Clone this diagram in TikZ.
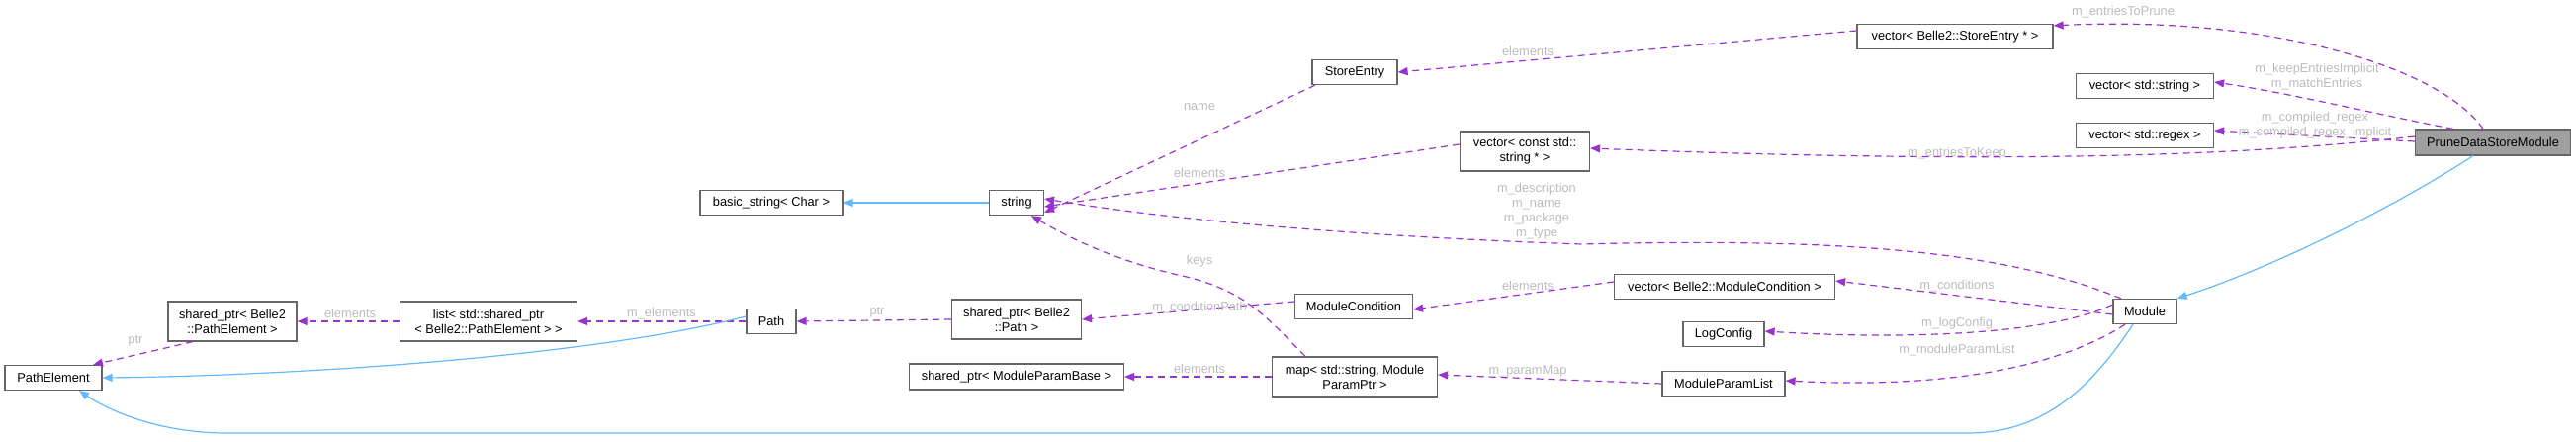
\documentclass[tikz,border=0pt]{standalone}
\usepackage{fontspec}
\setmainfont{Liberation Sans}
\usetikzlibrary{arrows.meta}
\definecolor{edgePurple}{HTML}{9A32CD}
\definecolor{edgeBlue}{HTML}{63B8FF}
\definecolor{boxGray}{HTML}{666666}
\definecolor{lblGray}{HTML}{BBBBBB}

\begin{document}
\begin{tikzpicture}[x=1pt, y=-1pt, >={Triangle[length=10pt,width=8pt]},
    cls/.style={draw=boxGray, line width=1.2pt, fill=white, inner sep=0pt, align=center,
      font=\fontsize{12.8}{15}\selectfont},
    usage/.style={draw=edgePurple, line width=1.2pt, dash pattern=on 7pt off 5pt, ->},
    inherit/.style={draw=edgeBlue, line width=1.2pt, ->},
    lbl/.style={text=lblGray, align=center, inner sep=0pt, font=\fontsize{12.8}{15}\selectfont}]
  \useasboundingbox (0,0) rectangle (2605,447);

  % classes
  \node[cls, fill=gray!75, minimum width=157pt, minimum height=26pt] (prune) at (2521,144) {PruneDataStoreModule};
  \node[cls, minimum width=198pt, minimum height=25pt] (vse) at (1977,37) {vector< Belle2::StoreEntry * >};
  \node[cls, minimum width=139pt, minimum height=25pt] (vstr) at (2169,87) {vector< std::string >};
  \node[cls, minimum width=139pt, minimum height=25pt] (vrgx) at (2169,137) {vector< std::regex >};
  \node[cls, minimum width=64pt, minimum height=25pt] (module) at (2169,315) {Module};
  \node[cls, minimum width=131pt, minimum height=40pt] (vcs) at (1542,153) {vector< const std::\\string * >};
  \node[cls, minimum width=223pt, minimum height=25pt] (vmc) at (1744,290) {vector< Belle2::ModuleCondition >};
  \node[cls, minimum width=82pt, minimum height=25pt] (logcfg) at (1743,338) {LogConfig};
  \node[cls, minimum width=124pt, minimum height=25pt] (mpl) at (1743,388) {ModuleParamList};
  \node[cls, minimum width=86pt, minimum height=25pt] (sentry) at (1370,73) {StoreEntry};
  \node[cls, minimum width=55pt, minimum height=25pt] (str) at (1028,205) {string};
  \node[cls, minimum width=119pt, minimum height=25pt] (mcond) at (1369,310) {ModuleCondition};
  \node[cls, minimum width=167pt, minimum height=40pt] (pmap) at (1370,381) {map< std::string, Module\\ParamPtr >};
  \node[cls, minimum width=131pt, minimum height=40pt] (spPath) at (1028,323) {shared\_ptr< Belle2\\::Path >};
  \node[cls, minimum width=217pt, minimum height=26pt] (spMPB) at (1028,381) {shared\_ptr< ModuleParamBase >};
  \node[cls, minimum width=144pt, minimum height=25pt] (bstr) at (780,205) {basic\_string< Char >};
  \node[cls, minimum width=50pt, minimum height=25pt] (path) at (780,325) {Path};
  \node[cls, minimum width=179pt, minimum height=40pt] (plist) at (494,325) {list< std::shared\_ptr\\< Belle2::PathElement > >};
  \node[cls, minimum width=130pt, minimum height=40pt] (spPE) at (235,325) {shared\_ptr< Belle2\\::PathElement >};
  \node[cls, minimum width=98pt, minimum height=25pt] (pelem) at (54,382) {PathElement};

  % members of PruneDataStoreModule
  \draw[usage] ([xshift=-10pt]prune.north) .. controls (2470,70) and (2300,15) .. ([yshift=-2pt]vse.north east);
  \draw[usage] ([xshift=-40pt]prune.north) .. controls (2400,115) and (2320,95) .. ([yshift=4pt]vstr.east);
  \draw[usage] ([yshift=1pt]prune.west) -- ([yshift=5pt]vrgx.east);
  \draw[usage] ([yshift=6pt]prune.west) .. controls (2250,160) and (2000,165) .. ([yshift=3pt]vcs.east);
  \draw[inherit] ([xshift=-20pt]prune.south) .. controls (2420,210) and (2300,270) .. (module.north east);
  \node[lbl] (lPrune) at (2147,12) {m\_entriesToPrune};
  \node[lbl] (lKeep) at (2343,78) {m\_keepEntriesImplicit\\m\_matchEntries};
  \node[lbl] (lRgx) at (2341,127) {m\_compiled\_regex\\m\_compiled\_regex\_implicit};
  \node[lbl] (lToKeep) at (1979,155) {m\_entriesToKeep};

  % string and friends
  \draw[usage] ([yshift=6pt]vse.west) -- (sentry.east);
  \draw[usage] ([xshift=-40pt]sentry.south) -- ([yshift=-10pt]str.east);
  \draw[usage] ([yshift=7pt]vcs.west) -- ([yshift=-4pt]str.east);
  \draw[usage] ([xshift=-24pt]module.north) .. controls (2030,255) and (1870,240) .. (1600,247)
    .. controls (1400,240) and (1200,225) .. ([yshift=4pt]str.east);
  \draw[usage] ([xshift=-50pt]pmap.north) .. controls (1280,320) and (1260,295) .. (1200,280)
    .. controls (1130,265) and (1080,240) .. ([xshift=15pt]str.south);
  \draw[inherit] (str) -- (bstr);
  \node[lbl] (lEl1) at (1545,52) {elements};
  \node[lbl] (lName) at (1213,108) {name};
  \node[lbl] (lEl2) at (1213,175) {elements};
  \node[lbl] (lDesc) at (1554,214) {m\_description\\m\_name\\m\_package\\m\_type};
  \node[lbl] (lKeys) at (1213,264) {keys};

  % members of Module
  \draw[usage] ([yshift=-3pt]module.west) -- ([yshift=6pt]vmc.east);
  \draw[usage] ([yshift=7pt]module.west) .. controls (2080,335) and (1950,345) .. ([yshift=3pt]logcfg.east);
  \draw[usage] ([xshift=-20pt]module.south) .. controls (2100,360) and (2000,395) .. ([yshift=3pt]mpl.east);
  \node[lbl] (lCond) at (1979,289) {m\_conditions};
  \node[lbl] (lLog) at (1979,327) {m\_logConfig};
  \node[lbl] (lMpl) at (1979,354) {m\_moduleParamList};

  \draw[usage] ([yshift=5pt]vmc.west) -- ([yshift=-3pt]mcond.east);
  \draw[usage] ([yshift=5pt]mcond.west) -- ([yshift=0pt]spPath.east);
  \draw[usage] (spPath.west) -- (path.east);
  \draw[usage] (path.west) -- (plist.east);
  \draw[usage] (plist.west) -- (spPE.east);
  \draw[usage] ([xshift=-40pt]spPE.south) -- ([xshift=40pt]pelem.north);
  \draw[usage] (mpl.west) -- ([yshift=2pt]pmap.east);
  \draw[usage] (pmap.west) -- (spMPB.east);
  \node[lbl] (lEl3) at (1545,289) {elements};
  \node[lbl] (lCPath) at (1213,311) {m\_conditionPath};
  \node[lbl] (lPtr1) at (887,316) {ptr};
  \node[lbl] (lElems) at (669,317) {m\_elements};
  \node[lbl] (lEl4) at (354,317) {elements};
  \node[lbl] (lPtr2) at (137,345) {ptr};
  \node[lbl] (lMap) at (1545,375) {m\_paramMap};
  \node[lbl] (lEl5) at (1213,373) {elements};

  % inheritance of PathElement
  \draw[inherit] ([yshift=5pt]path.west) .. controls (600,360) and (300,380) .. (pelem.east);
  \draw[inherit] ([xshift=-12pt]module.south) .. controls (2110,400) and (2060,438) .. (1990,438)
    -- (230,438) .. controls (160,438) and (110,415) .. ([xshift=26pt]pelem.south);
\end{tikzpicture}
\end{document}
